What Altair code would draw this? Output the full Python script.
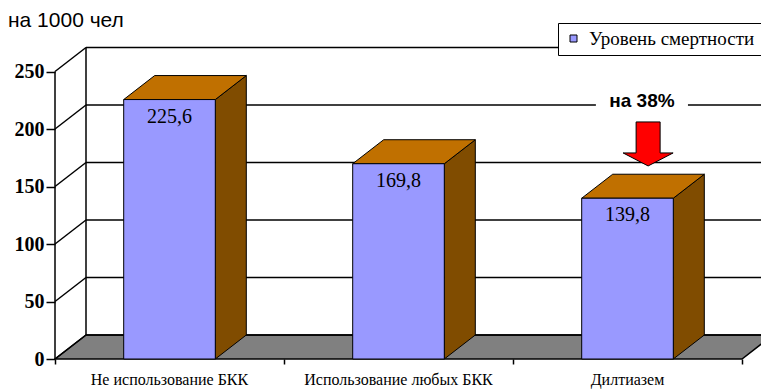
import altair as alt
import pandas as pd

# ---- data ----
categories = ["Не использование БКК", "Использование любых БКК", "Дилтиазем"]
values = [225.6, 169.8, 139.8]
value_labels = ["225,6", "169,8", "139,8"]
series_name = "Уровень смертности"
y_ticks = [0, 50, 100, 150, 200, 250]
unit_label = "на 1000 чел"
note_text = "на 38%"

# ---- geometry (style) ----
W, H = 761, 349
PAD_TOP = 40
DX = 31 / 229          # depth offset in category units
DY = 24 / 1.15         # depth offset in value units
BAR_L, BAR_R = 0.3, 0.7
XDOM = [-55 / 229, 706 / 229]
YDOM = [-30 / 1.15, 319 / 1.15]
NCAT = len(categories)
YMAX = max(y_ticks)

C_FRONT = "#9999FF"
C_TOP = "#C07000"
C_SIDE = "#804C00"
C_FLOOR = "#808080"

xs = alt.Scale(domain=XDOM, nice=False, zero=False)
ys = alt.Scale(domain=YDOM, nice=False, zero=False)
xax = alt.Axis(values=list(range(NCAT + 1)), labels=False, tickSize=5, tickColor="black",
               tickWidth=1.5, domain=False, grid=False, offset=-30, title=None)
yax = alt.Axis(values=y_ticks, tickSize=9, tickColor="black", tickWidth=1.5, domain=False,
               grid=False, offset=-55, labelFont="Liberation Serif", labelFontWeight="bold",
               labelFontSize=20, labelColor="black", labelPadding=2, title=None)


def X(f, **kw):
    return alt.X(f, type="quantitative", scale=xs, axis=xax, title=None, **kw)


def Y(f, **kw):
    return alt.Y(f, type="quantitative", scale=ys, axis=yax, title=None, **kw)


# floor
floor_df = pd.DataFrame({"y": [0, DY], "xl": [0, DX], "xr": [NCAT, NCAT + DX]})
floor = alt.Chart(floor_df).mark_area(orient="horizontal", fill=C_FLOOR, stroke="black",
                                      strokeWidth=1.5, clip=True).encode(
    y=Y("y"), x=X("xl"), x2="xr")

# walls: left diagonals, back horizontals, back vertical, front axis line
diag_df = pd.DataFrame({"x": [0] * len(y_ticks), "x2": [DX] * len(y_ticks),
                        "y": y_ticks, "y2": [v + DY for v in y_ticks]})
diag = alt.Chart(diag_df).mark_rule(color="black", strokeWidth=1.5).encode(
    x=X("x"), x2="x2", y=Y("y"), y2="y2")
back_df = pd.DataFrame({"x": [DX] * len(y_ticks), "x2": [NCAT + DX] * len(y_ticks),
                        "y": [v + DY for v in y_ticks]})
back = alt.Chart(back_df).mark_rule(color="black", strokeWidth=1.5, clip=True).encode(
    x=X("x"), x2="x2", y=Y("y"))
vert_df = pd.DataFrame({"x": [DX, 0], "y": [DY, 0], "y2": [YMAX + DY, YMAX]})
vert = alt.Chart(vert_df).mark_rule(color="black", strokeWidth=1.5).encode(
    x=X("x"), y=Y("y"), y2="y2")

# bars
rows_side, rows_top, rows_front = [], [], []
for i, (c, v, lab) in enumerate(zip(categories, values, value_labels)):
    rows_side += [{"bar": i, "x": i + BAR_R, "lo": 0, "hi": v},
                  {"bar": i, "x": i + BAR_R + DX, "lo": DY, "hi": v + DY}]
    rows_top += [{"bar": i, "y": v, "xl": i + BAR_L, "xr": i + BAR_R},
                 {"bar": i, "y": v + DY, "xl": i + BAR_L + DX, "xr": i + BAR_R + DX}]
    rows_front.append({"cat": c, "xl": i + BAR_L, "xr": i + BAR_R, "xc": i + 0.5,
                       "v": v, "lab": lab, "series": series_name})
side = alt.Chart(pd.DataFrame(rows_side)).mark_area(fill=C_SIDE, stroke="black",
                                                    strokeWidth=1).encode(
    x=X("x"), y=Y("lo"), y2="hi", detail="bar:N")
top = alt.Chart(pd.DataFrame(rows_top)).mark_area(orient="horizontal", fill=C_TOP,
                                                  stroke="black", strokeWidth=1).encode(
    y=Y("y"), x=X("xl"), x2="xr", detail="bar:N")
front_df = pd.DataFrame(rows_front)
front = alt.Chart(front_df).mark_rect(stroke="black", strokeWidth=1).encode(
    x=X("xl"), x2="xr", y=Y("v"), y2=alt.datum(0),
    color=alt.Color("series:N", scale=alt.Scale(range=[C_FRONT]),
                    legend=alt.Legend(orient="none", legendX=558, legendY=-17, title=None,
                                      fillColor="white", strokeColor="black", padding=6,
                                      symbolType="square", symbolSize=49,
                                      symbolStrokeColor="black", symbolStrokeWidth=1,
                                      labelFont="Liberation Serif", labelFontSize=19,
                                      labelColor="black", labelOffset=6, labelLimit=300)))
vlabels = alt.Chart(front_df).mark_text(font="Liberation Serif", fontSize=20, color="black",
                                        baseline="middle", dy=17).encode(
    x=X("xc"), y=Y("v"), text="lab:N")
clabels = alt.Chart(front_df).mark_text(font="Liberation Serif", fontSize=16, color="black",
                                        baseline="middle", dy=21).encode(
    x=X("xc"), y=alt.Y("zero:Q", scale=ys, axis=yax, title=None), text="cat:N"
).transform_calculate(zero="0")

# unit label at the top left
unit_df = pd.DataFrame({"x": [-47 / 229], "y": [332 / 1.15], "t": [unit_label]})
unit_txt = alt.Chart(unit_df).mark_text(font="Liberation Sans", fontSize=21, color="black",
                                        align="left", baseline="alphabetic").encode(
    x=X("x"), y=Y("y"), text="t:N")

# annotation: "на 38%" with arrow
ann_df = pd.DataFrame({"x": [2.563], "y": [224.3], "bx": [2.362], "bx2": [2.764],
                       "by": [216.5], "by2": [230.4], "ax": [2.590], "ay": [187.0],
                       "t": [note_text]})
ann_bg = alt.Chart(ann_df).mark_rect(fill="white").encode(
    x=X("bx"), x2="bx2", y=Y("by"), y2="by2")
ann_txt = alt.Chart(ann_df).mark_text(font="Liberation Sans", fontWeight="bold", fontSize=19,
                                      color="black", baseline="middle").encode(
    x=X("x"), y=Y("y"), text="t:N")
arrow_path = ("M-0.48,-0.88 L0.48,-0.88 L0.48,0.36 L1,0.36 L0,0.88 L-1,0.36 "
              "L-0.48,0.36 Z")
arrow = alt.Chart(ann_df).mark_point(shape=arrow_path, size=2500, filled=True, fill="#FF0000",
                                     stroke="black", strokeWidth=1, opacity=1).encode(
    x=X("ax"), y=Y("ay"))

chart = alt.layer(
    floor, diag, back, vert, side, top, front, vlabels, clabels, unit_txt,
    ann_bg, ann_txt, arrow
).properties(
    width=W, height=H,
    autosize=alt.AutoSizeParams(type="none"),
    padding={"left": 0, "top": PAD_TOP, "right": 0, "bottom": 0},
).configure(background="white").configure_view(stroke=None)

chart.save("out.html", embed_options={"renderer": "svg", "actions": False})
